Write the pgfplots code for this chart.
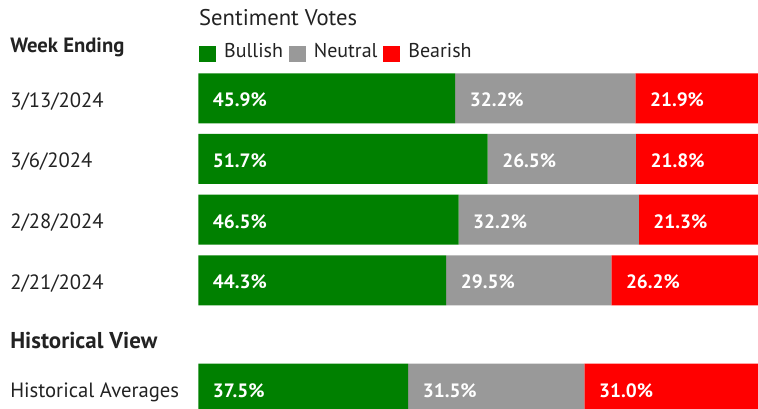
\documentclass[border=0pt]{standalone}
\usepackage{fontspec}
\setmainfont{PT Sans}
\usepackage{pgfplots}
\usepackage{pgfplotstable}
\pgfplotsset{compat=1.18}

\definecolor{bull}{HTML}{008000}
\definecolor{neut}{HTML}{999999}
\definecolor{bear}{HTML}{FF0000}
\definecolor{ink}{HTML}{222222}

% rows at y=0,-1,-2,-3; historical row set apart lower down
\pgfplotstableread{
y      bull neut bear
0      45.9 32.2 21.9
-1     51.7 26.5 21.8
-2     46.5 32.2 21.3
-3     44.3 29.5 26.2
-4.785 37.5 31.5 31.0
}\votes

\pgfplotsset{
  board/.style={
    scale only axis,
    width=419.8pt, height=251.8pt,
    at={(0,0)}, anchor=south west,
    xmin=0, xmax=100,
    ymin=-5.121, ymax=0.412,
    axis line style={draw=none},
    major tick length=0pt,
    xtick=\empty,
  },
  lbl/.style={
    draw=none, mark=none,
    nodes near coords={\pgfmathprintnumber[fixed,fixed zerofill,precision=1,assume math mode=true]{\pgfplotspointmeta}\%},
    nodes near coords style={anchor=base west, inner sep=0pt, xshift=10.8pt, yshift=-6.3pt,
      text=white, font=\fontsize{14.5}{17}\selectfont\bfseries},
  },
}

\begin{document}
\begin{tikzpicture}
\useasboundingbox (-148.7pt,0pt) rectangle (419.8pt,306.75pt);

\begin{axis}[
  board,
  xbar stacked,
  bar width=0.824,
  ytick={-4.785,-3,-2,-1,0},
  yticklabels={Historical Averages,2/21/2024,2/28/2024,3/6/2024,3/13/2024},
  yticklabel style={anchor=base west, inner sep=0pt, xshift=-141.2pt, yshift=-6.8pt,
    text=ink, font=\fontsize{15.5}{18}\selectfont},
]
\addplot[fill=bull, draw=none] table[x=bull, y=y] {\votes};
\addplot[fill=neut, draw=none] table[x=neut, y=y] {\votes};
\addplot[fill=bear, draw=none] table[x=bear, y=y] {\votes};
\end{axis}

% value labels at the start of each segment
\begin{axis}[board, ytick=\empty, clip=false]
\addplot[lbl, point meta=\thisrow{bull}] table[x expr=0, y=y] {\votes};
\addplot[lbl, point meta=\thisrow{neut}] table[x=bull, y=y] {\votes};
\addplot[lbl, point meta=\thisrow{bear}] table[x expr=\thisrow{bull}+\thisrow{neut}, y=y] {\votes};
\end{axis}

\begin{scope}[every node/.style={inner sep=0pt, text=ink, font=\fontsize{15}{18}\selectfont}]
\node[anchor=base west, font=\fontsize{17}{20}\selectfont] at (0.5pt,287.5pt) {Sentiment Votes};
\node[anchor=base west, font=\fontsize{15.5}{18}\selectfont\bfseries] at (-141.2pt,267.3pt) {Week Ending};
\node[anchor=base west, font=\fontsize{17.2}{20}\selectfont\bfseries] at (-141.2pt,45pt) {Historical View};

\node[fill=bull, minimum size=12.5pt, anchor=south west] (s1) at (0.5pt,259.8pt) {};
\node[anchor=base west] (t1) at ([xshift=5.8pt,yshift=4pt]s1.south east) {Bullish};
\node[fill=neut, minimum size=12.5pt, anchor=south west] (s2) at ([xshift=4pt]t1.east |- s1.south) {};
\node[anchor=base west] (t2) at ([xshift=5.8pt,yshift=4pt]s2.south east) {Neutral};
\node[fill=bear, minimum size=12.5pt, anchor=south west] (s3) at ([xshift=4pt]t2.east |- s1.south) {};
\node[anchor=base west] (t3) at ([xshift=5.8pt,yshift=4pt]s3.south east) {Bearish};
\end{scope}
\end{tikzpicture}
\end{document}
